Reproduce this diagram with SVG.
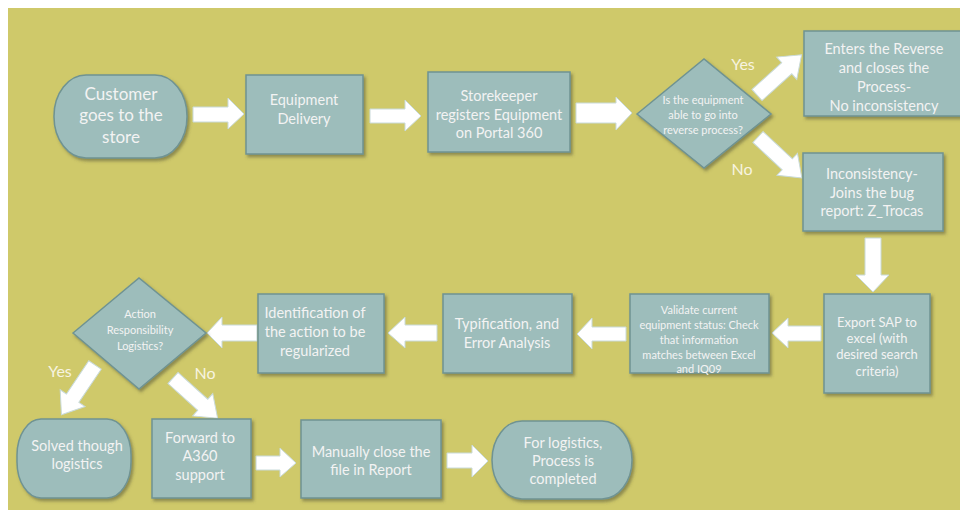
<svg xmlns="http://www.w3.org/2000/svg" width="960" height="510" viewBox="0 0 960 510">
<defs>
<filter id="sh" x="-10%" y="-10%" width="130%" height="130%">
<feDropShadow dx="2" dy="2.5" stdDeviation="1.5" flood-color="#4a4a30" flood-opacity="0.5"/>
</filter>
<style>
.n{fill:#9DBDBB;stroke:#6F9392;stroke-width:1.5;filter:url(#sh)}
.a{fill:#FFFFFF;stroke:#C9DADA;stroke-width:1}
text{font-family:Lato,"Open Sans","Liberation Sans",sans-serif;fill:#F3F3F3;text-anchor:middle;dominant-baseline:central}
.t15{font-size:14.5px}
.t17{font-size:17px}
.t11{font-size:11px}
.t13{font-size:13px}
.lb{font-size:16px;fill:#F7F4E0}
</style>
</defs>
<rect x="0" y="0" width="960" height="510" fill="#FFFFFF"/>
<rect x="8" y="8" width="952" height="502" fill="#CFC96A"/>

<g id="connectors">
<polygon class="a" points="193,107 228,107 228,98 244,114 228,129 228,122 193,122"/>
<polygon class="a" points="370,109 405,109 405,100 421,116 405,131 405,123 370,123"/>
<polygon class="a" points="576,103 616,103 616,97 632,113 616,130 616,123 576,123"/>
<polygon class="a" transform="translate(757,95) rotate(-42)" points="0,-7.5 40,-7.5 40,-15 60,0 40,15 40,7.5 0,7.5"/>
<polygon class="a" transform="translate(758,137) rotate(43)" points="0,-7.5 40,-7.5 40,-15 60,0 40,15 40,7.5 0,7.5"/>
<polygon class="a" points="865,238 881,238 881,275 889,275 873,292 856,275 865,275"/>
<polygon class="a" points="821,326 788,326 788,318 772,333 788,348 788,341 821,341"/>
<polygon class="a" points="626,327 592,327 592,318 577,334 592,349 592,341 626,341"/>
<polygon class="a" points="437,325 405,325 405,317 388,333 405,348 405,341 437,341"/>
<polygon class="a" points="257,325 222,325 222,317 207,333 222,348 222,341 257,341"/>
<polygon class="a" transform="translate(95,365) rotate(124)" points="0,-7.5 40,-7.5 40,-15 60,0 40,15 40,7.5 0,7.5"/>
<polygon class="a" transform="translate(173,378) rotate(42)" points="0,-7.5 40,-7.5 40,-15 60,0 40,15 40,7.5 0,7.5"/>
<polygon class="a" points="256,456 280,456 280,448 296,463 280,477 280,470 256,470"/>
<polygon class="a" points="447,453 472,453 472,445 488,461 472,477 472,468 447,468"/>
<text class="lb" x="743" y="63">Yes</text>
<text class="lb" x="742" y="168">No</text>
<text class="lb" x="60" y="370">Yes</text>
<text class="lb" x="205" y="372">No</text>
</g>

<g id="customer">
<rect class="n" x="54" y="75" width="133" height="83" rx="32" ry="41"/>
<text class="t17" x="121" y="93">Customer</text>
<text class="t17" x="121" y="114">goes to the</text>
<text class="t17" x="121" y="136">store</text>
</g>

<g id="delivery">
<rect class="n" x="246" y="75" width="117" height="79"/>
<text class="t15" x="304" y="99">Equipment</text>
<text class="t15" x="304" y="118">Delivery</text>
</g>

<g id="storekeeper">
<rect class="n" x="428" y="72" width="142" height="80"/>
<text class="t15" x="499" y="95">Storekeeper</text>
<text class="t15" x="499" y="114">registers Equipment</text>
<text class="t15" x="499" y="132">on Portal 360</text>
</g>

<g id="decision1">
<polygon class="n" points="637,114 704,59 771,114 704,168"/>
<text class="t11" x="703" y="99">Is the equipment</text>
<text class="t11" x="703" y="114">able to go into</text>
<text class="t11" x="703" y="129">reverse process?</text>
</g>

<g id="enters">
<rect class="n" x="804" y="31" width="160" height="85"/>
<text class="t15" x="884" y="48">Enters the Reverse</text>
<text class="t15" x="884" y="67">and closes the</text>
<text class="t15" x="884" y="86">Process-</text>
<text class="t15" x="884" y="105">No inconsistency</text>
</g>

<g id="inconsistency">
<rect class="n" x="803" y="153" width="140" height="78"/>
<text class="t15" x="872" y="173">Inconsistency-</text>
<text class="t15" x="872" y="192">Joins the bug</text>
<text class="t15" x="872" y="210">report: Z_Trocas</text>
</g>

<g id="export">
<rect class="n" x="824" y="294" width="106" height="99"/>
<text class="t13" x="877" y="322">Export SAP to</text>
<text class="t13" x="877" y="338">excel (with</text>
<text class="t13" x="877" y="354">desired search</text>
<text class="t13" x="877" y="371">criteria)</text>
</g>

<g id="validate">
<rect class="n" x="630" y="294" width="139" height="79"/>
<text class="t11" x="699" y="309">Validate current</text>
<text class="t11" x="699" y="324">equipment status: Check</text>
<text class="t11" x="699" y="339">that information</text>
<text class="t11" x="699" y="354">matches between Excel</text>
<text class="t11" x="699" y="368">and IQ09</text>
</g>

<g id="typification">
<rect class="n" x="443" y="294" width="129" height="79"/>
<text class="t15" x="507" y="323">Typification, and</text>
<text class="t15" x="507" y="342">Error Analysis</text>
</g>

<g id="identification">
<rect class="n" x="258" y="294" width="126" height="79"/>
<text class="t15" x="315" y="312">Identification of</text>
<text class="t15" x="315" y="331">the action to be</text>
<text class="t15" x="315" y="350">regularized</text>
</g>

<g id="decision2">
<polygon class="n" points="73,333 139,278 206,333 139,389"/>
<text class="t11" x="140" y="313">Action</text>
<text class="t11" x="140" y="329">Responsibility</text>
<text class="t11" x="140" y="345">Logistics?</text>
</g>

<g id="solved">
<rect class="n" x="17" y="419" width="114" height="79" rx="24" ry="36"/>
<text class="t15" x="77" y="445">Solved though</text>
<text class="t15" x="77" y="463">logistics</text>
</g>

<g id="forward">
<rect class="n" x="152" y="419" width="99" height="79"/>
<text class="t15" x="200" y="437">Forward to</text>
<text class="t15" x="200" y="455">A360</text>
<text class="t15" x="200" y="474">support</text>
</g>

<g id="manually">
<rect class="n" x="301" y="420" width="140" height="78"/>
<text class="t15" x="371" y="451">Manually close the</text>
<text class="t15" x="371" y="469">file in Report</text>
</g>

<g id="completed">
<rect class="n" x="492" y="421" width="140" height="78" rx="30" ry="39"/>
<text class="t15" x="563" y="442">For logistics,</text>
<text class="t15" x="563" y="460">Process is</text>
<text class="t15" x="563" y="478">completed</text>
</g>
</svg>
